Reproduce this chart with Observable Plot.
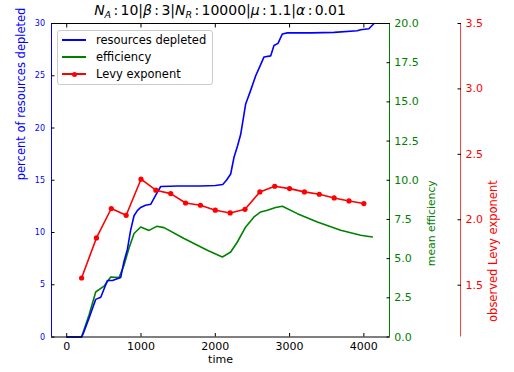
<!DOCTYPE html>
<html><head><meta charset="utf-8">
<script src="https://cdn.jsdelivr.net/npm/d3@7"></script>
<script src="https://cdn.jsdelivr.net/npm/@observablehq/plot@0.6"></script>
<style>
body{margin:0;background:#fff;font-family:"DejaVu Sans",sans-serif;}
#wrap{position:relative;width:514px;height:372px;overflow:hidden;}
#title{position:absolute;left:0;width:440px;top:0px;text-align:center;font-size:14px;line-height:20px;color:#000;white-space:nowrap;}
#title i{font-style:italic;}
#title sub{font-size:9.5px;vertical-align:-2.5px;line-height:0;}
#legend{position:absolute;left:57px;top:30px;width:154px;height:53px;border:1px solid #ccc;border-radius:3px;background:rgba(255,255,255,0.85);font-size:11.5px;color:#000;}
.row{position:absolute;left:4px;height:14px;}
.row .ln{position:absolute;left:0;top:6px;width:24px;height:2px;}
.row .dot{position:absolute;left:9.5px;top:4.5px;width:5px;height:5px;border-radius:50%;}
.row span{position:absolute;left:34px;top:0;white-space:nowrap;line-height:14px;}
</style></head><body><div id="wrap"></div>
<script>
// resources depleted (percent)
const depTime = [0, 200, 220, 300, 390, 458, 548, 615, 727, 770, 817, 860, 906, 950, 996, 1060, 1130, 1200, 1265, 1500, 1800, 2000, 2100, 2150, 2207, 2252, 2300, 2342, 2409, 2476, 2544, 2600, 2656, 2745, 2790, 2844, 2903, 2970, 3300, 3600, 3912, 3957, 4068, 4136];
const depPct  = [0, 0, 0.3, 1.8, 3.6, 3.8, 5.4, 5.4, 5.7, 7.2, 8.4, 10.2, 11.6, 12.1, 12.4, 12.6, 12.7, 13.6, 14.4, 14.45, 14.45, 14.5, 14.6, 15.0, 15.6, 17.2, 18.3, 19.4, 22.3, 23.6, 25.0, 25.9, 26.8, 26.9, 27.9, 28.1, 29.0, 29.1, 29.1, 29.15, 29.3, 29.4, 29.5, 30.0];
// mean efficiency
const effTime = [0, 200, 300, 390, 502, 592, 704, 771, 840, 906, 996, 1108, 1211, 1310, 1579, 1893, 2095, 2207, 2297, 2409, 2521, 2611, 2700, 2812, 2903, 3105, 3374, 3688, 3957, 4114];
const effVal  = [0, 0, 1.4, 2.87, 3.24, 3.83, 3.79, 4.58, 5.7, 6.6, 7.02, 6.8, 7.06, 6.98, 6.28, 5.53, 5.1, 5.42, 6.06, 7.02, 7.66, 7.98, 8.08, 8.26, 8.34, 7.87, 7.34, 6.81, 6.49, 6.38];
// observed Levy exponent
const levTime = [200, 400, 600, 800, 1000, 1200, 1400, 1600, 1800, 2000, 2200, 2400, 2600, 2800, 3000, 3200, 3400, 3600, 3800, 4000];
const levVal  = [1.555, 1.861, 2.086, 2.034, 2.31, 2.226, 2.2, 2.128, 2.111, 2.073, 2.052, 2.08, 2.213, 2.256, 2.238, 2.213, 2.195, 2.167, 2.144, 2.124];

const xTicks = [0, 1000, 2000, 3000, 4000];
const pctTicks = [0, 5, 10, 15, 20, 25, 30];
const effTicks = [0, 2.5, 5, 7.5, 10, 12.5, 15, 17.5, 20];
const levTicks = [1.5, 2.0, 2.5, 3.0, 3.5];

const xDomain = [-205, 4345];
const pctMax = 30, effMax = 20, levMin = 1.104, levMax = 3.5;
const effToY = v => v / effMax * pctMax;
const levToY = v => (v - levMin) / (levMax - levMin) * pctMax;
const yToEff = y => y * effMax / pctMax;
const yToLev = y => y * (levMax - levMin) / pctMax + levMin;

const dep = depTime.map((t, i) => ({t, v: depPct[i]}));
const eff = effTime.map((t, i) => ({t, v: effToY(effVal[i])}));
const lev = levTime.map((t, i) => ({t, v: levToY(levVal[i])}));

const BLUE = "#0000ff", GREEN = "#008000", RED = "#ff0000";

const chart = Plot.plot({
  width: 514, height: 372,
  marginLeft: 51, marginRight: 125, marginTop: 23, marginBottom: 35.5,
  style: {fontFamily: "DejaVu Sans", fontSize: "11px", background: "white"},
  x: {domain: xDomain, axis: null},
  y: {domain: [0, pctMax], axis: null},
  marks: [
    Plot.line(eff, {x: "t", y: "v", stroke: GREEN, strokeWidth: 1.6}),
    Plot.line(dep, {x: "t", y: "v", stroke: BLUE, strokeWidth: 1.6}),
    Plot.line(lev, {x: "t", y: "v", stroke: RED, strokeWidth: 1.6}),
    Plot.dot(lev, {x: "t", y: "v", fill: RED, r: 2.6}),
    // spines
    Plot.ruleY([0], {stroke: "black"}),
    Plot.ruleY([pctMax], {stroke: "black"}),
    Plot.ruleX([xDomain[0]], {stroke: BLUE}),
    Plot.ruleX([xDomain[1]], {stroke: GREEN}),
    Plot.ruleX([xDomain[1]], {stroke: RED, strokeOpacity: 0.75, dx: 71}),
    // x axis
    Plot.axisX(xTicks, {anchor: "bottom", tickSize: -3.5, tickPadding: 8.5, stroke: "black", fill: "black", fontSize: 11, tickFormat: d => String(d), label: null}),
    Plot.axisX(xTicks, {anchor: "top", tickSize: -3.5, tickFormat: () => "", stroke: "black", label: null}),
    // left axis
    Plot.axisY(pctTicks, {anchor: "left", tickSize: -3.5, tickPadding: 10, stroke: "black", fill: BLUE, fontSize: 8, letterSpacing: 1.5, tickFormat: d => String(d), label: null}),
    // efficiency axis
    Plot.axisY(effTicks.map(effToY), {anchor: "right", tickSize: -3.5, tickPadding: 8.2, stroke: "black", fill: GREEN, fontSize: 11, tickFormat: d => yToEff(d).toFixed(1), label: null}),
    // levy axis
    Plot.axisY(levTicks.map(levToY), {anchor: "right", dx: 71, tickSize: -3.5, tickPadding: 8.5, stroke: "black", fill: RED, fontSize: 11, tickFormat: d => yToLev(d).toFixed(1), label: null}),
    // axis titles
    Plot.text(["time"], {frameAnchor: "bottom", dy: 25.5, fill: "black", fontSize: 11}),
    Plot.text(["percent of resources depleted"], {frameAnchor: "left", dx: -30, rotate: -90, fill: BLUE, fontSize: 11.5}),
    Plot.text(["mean efficiency"], {frameAnchor: "right", dx: 42.5, rotate: -90, fill: GREEN, fontSize: 10.8}),
    Plot.text(["observed Levy exponent"], {frameAnchor: "right", dx: 104, rotate: -90, fill: RED, fontSize: 11.5})
  ]
});

const wrap = document.getElementById("wrap");
wrap.appendChild(chart);

const title = document.createElement("div");
title.id = "title";
const sp = "&#8198;";
title.innerHTML = `<i>N</i><sub><i>A</i></sub>${sp}:${sp}10|<i>β</i>${sp}:${sp}3|<i>N</i><sub><i>R</i></sub>${sp}:${sp}10000|<i>μ</i>${sp}:${sp}1.1|<i>α</i>${sp}:${sp}0.01`;
wrap.appendChild(title);

const legend = document.createElement("div");
legend.id = "legend";
const items = [
  {label: "resources depleted", color: BLUE, dot: false},
  {label: "efficiency", color: GREEN, dot: false},
  {label: "Levy exponent", color: RED, dot: true}
];
items.forEach((it, i) => {
  const row = document.createElement("div");
  row.className = "row";
  row.style.top = (2 + i * 17) + "px";
  row.innerHTML = `<div class="ln" style="background:${it.color}"></div>` +
    (it.dot ? `<div class="dot" style="background:${it.color}"></div>` : "") +
    `<span>${it.label}</span>`;
  legend.appendChild(row);
});
wrap.appendChild(legend);
</script>
</body></html>
